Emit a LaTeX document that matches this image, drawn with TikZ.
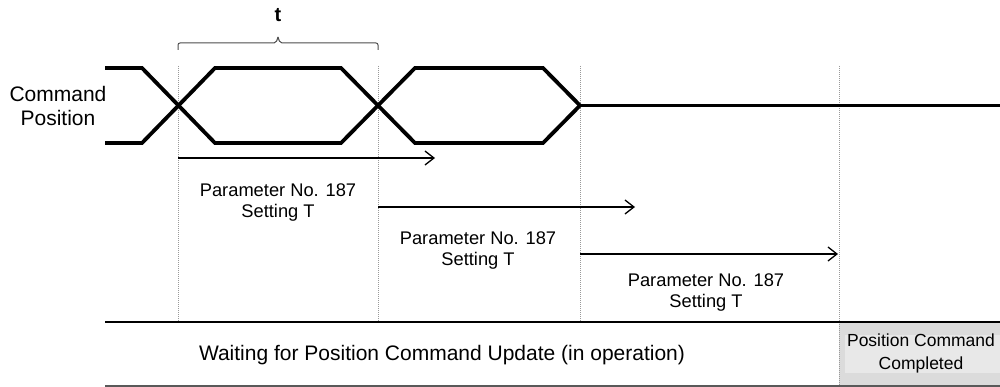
\documentclass[tikz,border=0pt]{standalone}
\usepackage{fontspec}
\setmainfont{Liberation Sans}
\usetikzlibrary{arrows.meta}
\begin{document}
\begin{tikzpicture}[x=1pt,y=-1pt,
  sig/.style={line width=3.8pt,line join=miter,line cap=butt},
  guide/.style={gray!80,line width=1pt,densely dotted},
  dur/.style={line width=1.3pt,-{Straight Barb[length=9pt,width=14pt,line width=1.3pt]}},
  lbl/.style={font=\fontsize{18.3}{21}\selectfont,align=center,inner sep=0pt},
  big/.style={font=\fontsize{21}{24}\selectfont,align=center,inner sep=0pt}]
\useasboundingbox (0,0) rectangle (1000,387);
% gray completed box
\fill[gray!28] (839,323) rectangle (1000,387);
\fill[gray!18] (845,335) rectangle (1000,373);
% guides
\coordinate (g1t) at (178,66); \coordinate (g1b) at (178,322);
\coordinate (g2t) at (378,66); \coordinate (g2b) at (378,322);
\coordinate (g3t) at (580,66); \coordinate (g3b) at (580,322);
\coordinate (g4t) at (839,66); \coordinate (g4b) at (839,387);
\draw[guide] (g1t) -- (g1b);
\draw[guide] (g2t) -- (g2b);
\draw[guide] (g3t) -- (g3b);
\draw[guide] (g4t) -- (g4b);
% brace
\coordinate (bl) at (178,50); \coordinate (br) at (378,50); \coordinate (bt) at (278,37);
\draw[gray!60!black,line width=1pt,rounded corners=2pt]
  (bl) -- (178,43) -- (276,43) -- (bt);
\draw[gray!60!black,line width=1pt,rounded corners=2pt]
  (br) -- (378,43) -- (280,43) -- (bt);
\node[font=\bfseries\fontsize{20}{22}\selectfont,inner sep=0pt] (t) at (278,15) {t};
% signals
\coordinate (a0) at (105,68);  \coordinate (a1) at (142,68); \coordinate (a2) at (215,143);
\coordinate (a3) at (341,143); \coordinate (a4) at (415,68); \coordinate (a5) at (543,68);
\coordinate (m) at (580,105.5); \coordinate (e) at (1000,105.5);
\coordinate (b0) at (105,143); \coordinate (b1) at (142,143); \coordinate (b2) at (215,68);
\coordinate (b3) at (341,68); \coordinate (b4) at (415,143); \coordinate (b5) at (543,143);
\draw[sig] (a0) -- (a1) -- (a2) -- (a3) -- (a4) -- (a5) -- (m);
\draw[sig] (b0) -- (b1) -- (b2) -- (b3) -- (b4) -- (b5) -- (m);
\draw[sig] (m) -- (e);
\node[big] (cmd) at (58,106) {Command\\Position};
% duration arrows
\coordinate (r1s) at (178,158); \coordinate (r1e) at (435,158);
\coordinate (r2s) at (378,207); \coordinate (r2e) at (635,207);
\coordinate (r3s) at (580,254); \coordinate (r3e) at (838,254);
\draw[dur] (r1s) -- (r1e);
\draw[dur] (r2s) -- (r2e);
\draw[dur] (r3s) -- (r3e);
\node[lbl] (p1) at (278,202.5) {Parameter No. 187\\Setting T};
\node[lbl] (p2) at (478,251) {Parameter No. 187\\Setting T};
\node[lbl] (p3) at (706,292.5) {Parameter No. 187\\Setting T};
% status timeline
\coordinate (s0) at (105,322); \coordinate (s1) at (1000,322);
\coordinate (u0) at (105,386); \coordinate (u1) at (1000,386);
\draw[line width=2.8pt] (s0) -- (s1);
\draw[gray!70!black,line width=1.2pt] (u0) -- (u1);
\node[big] (wait) at (442,355) {Waiting for Position Command Update (in operation)};
\node[font=\fontsize{17.5}{23}\selectfont,align=center,inner sep=0pt] (done) at (921,353.5)
  {Position Command\\Completed};
\end{tikzpicture}
\end{document}
